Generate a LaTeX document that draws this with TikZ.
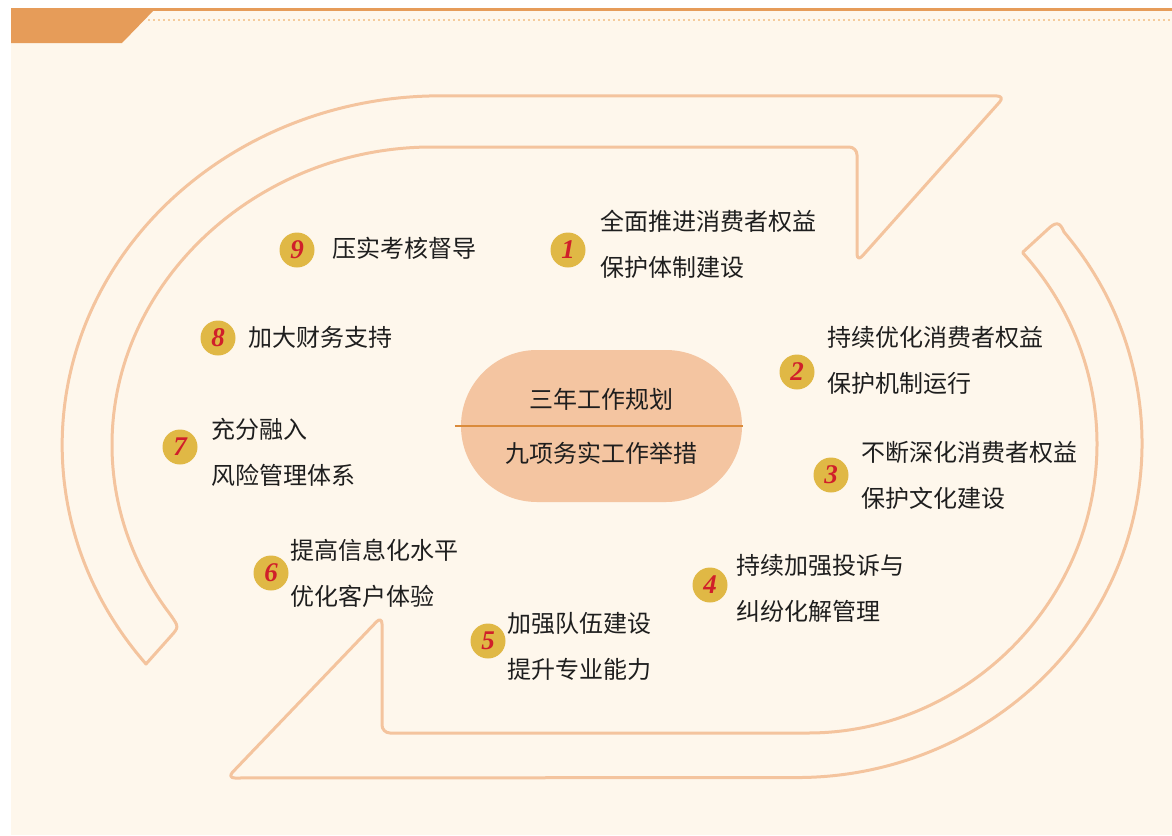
\documentclass[tikz,border=0pt]{standalone}
\usepackage{fontspec}
\setmainfont{Liberation Serif}
\newfontfamily\cjk{Noto Sans CJK SC}
\usetikzlibrary{positioning, shapes.misc}
\definecolor{paper}{HTML}{FEF7EC}
\definecolor{tabfill}{HTML}{E69C59}
\definecolor{dotline}{HTML}{F5CC9C}
\definecolor{lineorange}{HTML}{F4C49E}
\definecolor{corefill}{HTML}{F4C5A1}
\definecolor{coreline}{HTML}{DA8B3B}
\definecolor{ballgold}{HTML}{E0B845}
\definecolor{numred}{HTML}{D01F2A}
\definecolor{ink}{HTML}{1E1E1E}
\tikzstyle{numball} = [circle, fill=ballgold, minimum size=35pt, inner sep=0pt, text=numred, font=\fontsize{27}{27}\selectfont\bfseries\itshape]
\tikzstyle{item} = [align=left, inner sep=0pt, text=ink, font=\cjk\fontsize{24}{46}\selectfont]
\tikzstyle{ring} = [draw=lineorange, line width=3pt, line join=round]
\begin{document}
\begin{tikzpicture}[x=1pt, y=-1pt]
	\useasboundingbox (0,0) rectangle (1172,835);
	\fill[white] (0,0) rectangle (1172,835);
	\fill[paper] (11,10) rectangle (1172,835);
	% header
	\fill[tabfill] (11,8) rectangle (1172,10.5);
	\fill[tabfill] (11,8) -- (156,8) -- (122,43) -- (11,43) -- cycle;
	\draw[dotline, line width=2pt, dash pattern=on 2pt off 3pt] (148,20) -- (1172,20);
	
	% the two arrows of the loop
	\draw[ring] (146,664) arc[start angle=141.1, end angle=270, x radius=378, y radius=349]
		[rounded corners=8pt] -- (1005,96) -- (857,262) -- (857,147) -- (440,147) [sharp corners]
		arc[start angle=270, end angle=145.4, x radius=328, y radius=298]
		.. controls (179,627) .. (171,636) -- cycle;
	\draw[ring] (1023,252) -- (1047,230) .. controls (1056,221) and (1060,222) .. (1064,232)
		arc[start angle=-39.3, end angle=90, x radius=345, y radius=334]
		[rounded corners=8pt] -- (227,778) -- (382,616) -- (382,733) -- (800,733) [sharp corners]
		arc[start angle=90, end angle=-41.3, x radius=297, y radius=289] -- cycle;
	
	% centre
	\node (core) [rounded rectangle, fill=corefill, minimum width=281pt, minimum height=152pt, inner sep=0pt] at (601.5,426) {};
	\draw[coreline, line width=2.5pt] ([xshift=-6pt]core.west) -- ([xshift=1pt]core.east);
	\node (plan) [item] at ([yshift=27pt]core.center) {三年工作规划};
	\node (task) [item] at ([yshift=-27pt]core.center) {九项务实工作举措};
	
	\node (n1) [numball] at (568,250) {1};
	\node (n2) [numball] at (797,372) {2};
	\node (n3) [numball] at (831,475) {3};
	\node (n4) [numball] at (710,585) {4};
	\node (n5) [numball] at (488,641) {5};
	\node (n6) [numball] at (271,573) {6};
	\node (n7) [numball] at (180,447) {7};
	\node (n8) [numball] at (218,338) {8};
	\node (n9) [numball] at (297,250) {9};
	
	\node (t1) [item, right=14.5pt of n1, yshift=6pt] {全面推进消费者权益\\保护体制建设};
	\node (t2) [item, right=12.5pt of n2, yshift=11.5pt] {持续优化消费者权益\\保护机制运行};
	\node (t3) [item, right=12.5pt of n3] {不断深化消费者权益\\保护文化建设};
	\node (t4) [item, right=8.5pt of n4, yshift=-3pt] {持续加强投诉与\\纠纷化解管理};
	\node (t5) [item, right=1.5pt of n5, yshift=-5.5pt] {加强队伍建设\\提升专业能力};
	\node (t6) [item, right=1.5pt of n6] {提高信息化水平\\优化客户体验};
	\node (t7) [item, right=13.5pt of n7, yshift=-5pt] {充分融入\\风险管理体系};
	\node (t8) [item, right=12.5pt of n8, yshift=1pt] {加大财务支持};
	\node (t9) [item, right=17.5pt of n9, yshift=2pt] {压实考核督导};
\end{tikzpicture}
\end{document}
